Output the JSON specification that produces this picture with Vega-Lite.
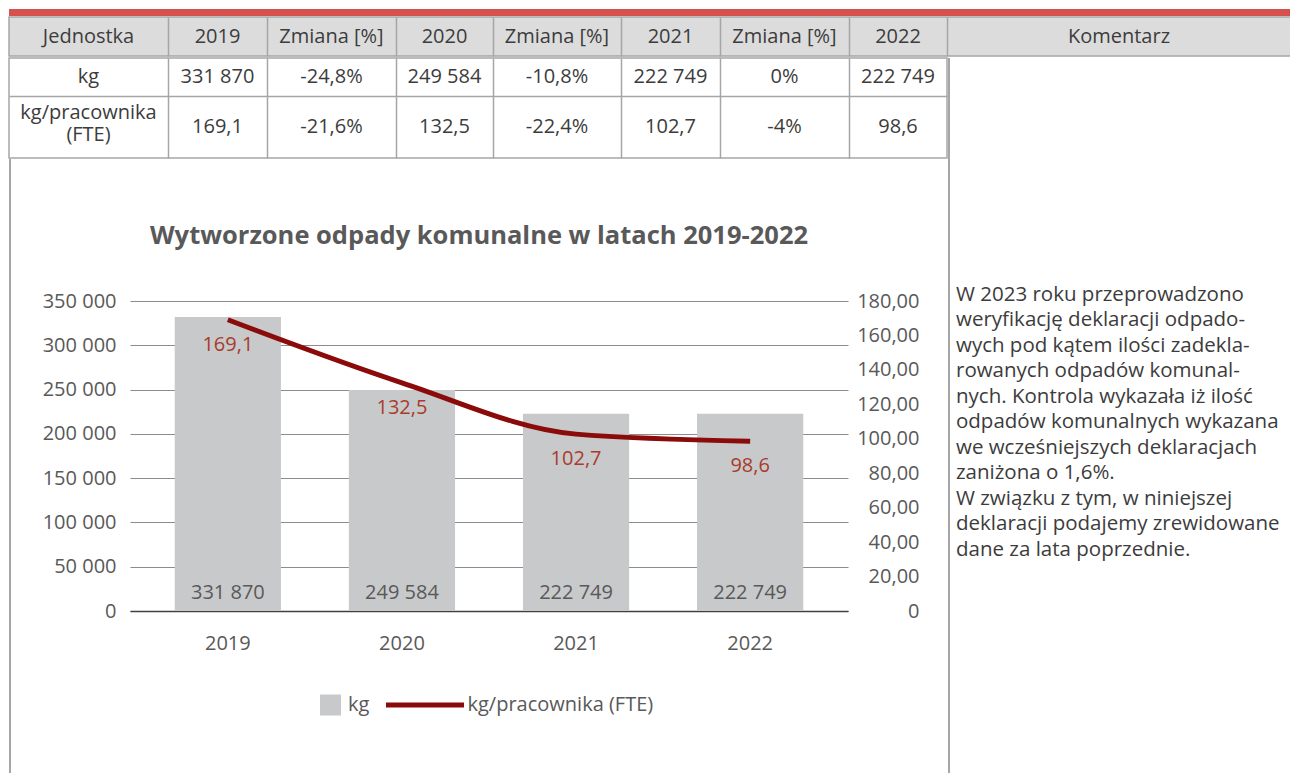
{
  "$schema": "https://vega.github.io/schema/vega-lite/v6.json",
  "padding": {"left": 8, "top": 9, "right": 0, "bottom": 0},
  "spacing": 0,
  "config": {
    "font": "Open Sans",
    "locale": {"number": {"decimal": ",", "thousands": " ", "grouping": [3], "currency": ["", " zł"]}},
    "view": {"stroke": null},
    "concat": {"spacing": 0},
    "axis": {"labelFont": "Open Sans", "labelFontSize": 20, "labelColor": "#595959", "labelOverlap": false},
    "legend": {"labelFont": "Open Sans", "labelFontSize": 20, "labelColor": "#595959", "labelLimit": 0}
  },
  "datasets": {
    "header": [
      {"col": 0, "text": "Jednostka"},
      {"col": 1, "text": "2019"},
      {"col": 2, "text": "Zmiana [%]"},
      {"col": 3, "text": "2020"},
      {"col": 4, "text": "Zmiana [%]"},
      {"col": 5, "text": "2021"},
      {"col": 6, "text": "Zmiana [%]"},
      {"col": 7, "text": "2022"},
      {"col": 8, "text": "Komentarz"}
    ],
    "body": [
      {"row": 0, "col": 0, "text": "kg"},
      {"row": 0, "col": 1, "text": "331 870"},
      {"row": 0, "col": 2, "text": "-24,8%"},
      {"row": 0, "col": 3, "text": "249 584"},
      {"row": 0, "col": 4, "text": "-10,8%"},
      {"row": 0, "col": 5, "text": "222 749"},
      {"row": 0, "col": 6, "text": "0%"},
      {"row": 0, "col": 7, "text": "222 749"},
      {"row": 1, "col": 0, "text": "kg/pracownika\n(FTE)"},
      {"row": 1, "col": 1, "text": "169,1"},
      {"row": 1, "col": 2, "text": "-21,6%"},
      {"row": 1, "col": 3, "text": "132,5"},
      {"row": 1, "col": 4, "text": "-22,4%"},
      {"row": 1, "col": 5, "text": "102,7"},
      {"row": 1, "col": 6, "text": "-4%"},
      {"row": 1, "col": 7, "text": "98,6"}
    ],
    "chart": [
      {"year": "2019", "kg": 331870, "fte": 169.1},
      {"year": "2020", "kg": 249584, "fte": 132.5},
      {"year": "2021", "kg": 222749, "fte": 102.7},
      {"year": "2022", "kg": 222749, "fte": 98.6}
    ],
    "comment": [
      {"line": 1, "text": "W 2023 roku przeprowadzono"},
      {"line": 2, "text": "weryfikację deklaracji odpado-"},
      {"line": 3, "text": "wych pod kątem ilości zadekla-"},
      {"line": 4, "text": "rowanych odpadów komunal-"},
      {"line": 5, "text": "nych. Kontrola wykazała iż ilość"},
      {"line": 6, "text": "odpadów komunalnych wykazana"},
      {"line": 7, "text": "we wcześniejszych deklaracjach"},
      {"line": 8, "text": "zaniżona o 1,6%."},
      {"line": 9, "text": "W związku z tym, w niniejszej"},
      {"line": 10, "text": "deklaracji podajemy zrewidowane"},
      {"line": 11, "text": "dane za lata poprzednie."}
    ]
  },
  "vconcat": [
    {
      "width": 1282, "height": 7,
      "data": {"values": []},
      "mark": "point",
      "view": {"fill": "#d6504e", "stroke": null}
    },
    {
      "width": 1282, "height": 39,
      "data": {"name": "header"},
      "view": {"fill": "#dcdcdc", "stroke": "#a6a6a6", "strokeWidth": 1.5},
      "mark": {"type": "text", "fontSize": 20, "color": "#3c3c3c", "baseline": "middle"},
      "encoding": {
        "x": {
          "field": "col", "type": "quantitative",
          "scale": {
            "domain": [-0.5, 0, 0.5, 1, 1.5, 2, 2.5, 3, 3.5, 4, 4.5, 5, 5.5, 6, 6.5, 7, 7.5, 8, 8.5],
            "range": [0, 79.5, 159, 208.5, 258, 322.5, 387, 435.5, 484, 548, 612, 661.5, 711, 775.5, 840, 889, 938, 1110, 1282],
            "zero": false, "nice": false
          },
          "axis": {"values": [0.5, 1.5, 2.5, 3.5, 4.5, 5.5, 6.5, 7.5], "grid": true, "gridColor": "#a6a6a6", "gridWidth": 1.5, "labels": false, "ticks": false, "domain": false, "title": null, "minExtent": 0, "maxExtent": 0}
        },
        "text": {"field": "text", "type": "nominal"}
      }
    },
    {
      "hconcat": [
        {
          "vconcat": [
            {
              "width": 938, "height": 100,
              "data": {"name": "body"},
              "view": {"stroke": "#a6a6a6", "strokeWidth": 1.5},
              "encoding": {
                "x": {
                  "field": "col", "type": "quantitative",
                  "scale": {
                    "domain": [-0.5, 0, 0.5, 1, 1.5, 2, 2.5, 3, 3.5, 4, 4.5, 5, 5.5, 6, 6.5, 7, 7.5],
                    "range": [0, 79.5, 159, 208.5, 258, 322.5, 387, 435.5, 484, 548, 612, 661.5, 711, 775.5, 840, 889, 938],
                    "zero": false, "nice": false
                  },
                  "axis": {"values": [0.5, 1.5, 2.5, 3.5, 4.5, 5.5, 6.5], "grid": true, "gridColor": "#a6a6a6", "gridWidth": 1.5, "labels": false, "ticks": false, "domain": false, "title": null, "minExtent": 0, "maxExtent": 0}
                },
                "y": {
                  "field": "row", "type": "quantitative",
                  "scale": {"domain": [-0.5, 0, 0.5, 1, 1.5], "range": [0, 19, 38, 69, 100], "zero": false, "nice": false},
                  "axis": {"values": [0.5], "grid": true, "gridColor": "#a6a6a6", "gridWidth": 1.5, "labels": false, "ticks": false, "domain": false, "title": null, "minExtent": 0, "maxExtent": 0}
                },
                "text": {"field": "text", "type": "nominal"}
              },
              "layer": [
                {
                  "transform": [{"filter": "indexof(datum.text, '\\n') < 0"}],
                  "mark": {"type": "text", "fontSize": 20, "color": "#3c3c3c", "baseline": "middle"}
                },
                {
                  "transform": [{"filter": "indexof(datum.text, '\\n') >= 0"}],
                  "mark": {"type": "text", "fontSize": 20, "color": "#3c3c3c", "baseline": "middle", "lineBreak": "\n", "lineHeight": 22, "dy": -14}
                }
              ]
            },
            {
              "hconcat": [
                {
                  "width": 2, "height": 618,
                  "data": {"values": []},
                  "mark": "point",
                  "view": {"fill": "#a6a6a6", "stroke": null}
                },
                {
                  "vconcat": [
                    {
                      "width": 817, "height": 64,
                      "data": {"values": []},
                      "mark": "point"
                    },
                    {
                      "width": 718, "height": 310,
                      "data": {"name": "chart"},
                      "title": {"text": "Wytworzone odpady komunalne w latach 2019-2022", "anchor": "middle", "frame": "bounds", "fontSize": 25.5, "fontWeight": "bold", "color": "#595959", "font": "Open Sans", "offset": 42},
                      "encoding": {
                        "x": {
                          "field": "year", "type": "ordinal",
                          "scale": {"paddingInner": 0.39, "paddingOuter": 0.257},
                          "axis": {"title": null, "labelAngle": 0, "ticks": false, "tickSize": 0, "labelPadding": 22, "domainColor": "#404040", "domainWidth": 1.5, "grid": false}
                        }
                      },
                      "layer": [
                        {
                          "mark": {"type": "bar"},
                          "encoding": {
                            "y": {
                              "field": "kg", "type": "quantitative",
                              "scale": {"domain": [0, 350000], "nice": false},
                              "axis": {"orient": "left", "title": null, "values": [0, 50000, 100000, 150000, 200000, 250000, 300000, 350000], "format": ",d", "grid": true, "gridColor": "#8c8c8c", "gridWidth": 1.2, "domain": false, "ticks": false, "labelPadding": 14, "minExtent": 119, "maxExtent": 119}
                            },
                            "fill": {
                              "datum": "kg", "type": "nominal",
                              "scale": {"range": ["#c8c9cb"]},
                              "legend": {"orient": "none", "legendX": 311, "legendY": 685, "title": null, "symbolType": "square", "symbolSize": 441, "symbolStrokeWidth": 0, "labelOffset": 7, "clipHeight": 22}
                            }
                          }
                        },
                        {
                          "mark": {"type": "text", "baseline": "middle", "dy": -18, "fontSize": 20, "color": "#595959"},
                          "encoding": {
                            "y": {"datum": 0, "type": "quantitative", "scale": {"domain": [0, 1]}, "axis": null},
                            "text": {"field": "kg", "type": "quantitative", "format": ",d"}
                          }
                        },
                        {
                          "encoding": {
                            "y": {
                              "field": "fte", "type": "quantitative",
                              "scale": {"domain": [0, 180], "nice": false},
                              "axis": {"orient": "right", "title": null, "values": [0, 20, 40, 60, 80, 100, 120, 140, 160, 180], "labelExpr": "datum.value === 0 ? '0' : replace(format(datum.value, '.2f'), '.', ',')", "grid": false, "domain": false, "ticks": false, "labelAlign": "right", "labelPadding": 71, "minExtent": 99, "maxExtent": 99}
                            }
                          },
                          "layer": [
                            {
                              "mark": {"type": "line", "strokeWidth": 5, "interpolate": "monotone"},
                              "encoding": {
                                "stroke": {
                                  "datum": "kg/pracownika (FTE)", "type": "nominal",
                                  "scale": {"range": ["#8b0a0a"]},
                                  "legend": {"orient": "none", "legendX": 374.5, "legendY": 685, "title": null, "symbolType": "stroke", "symbolSize": 6084, "symbolStrokeWidth": 5, "labelOffset": 1, "clipHeight": 22}
                                }
                              }
                            },
                            {
                              "mark": {"type": "text", "baseline": "middle", "dy": 25, "fontSize": 20, "color": "#a83c2c"},
                              "encoding": {
                                "text": {"field": "fte", "type": "quantitative", "format": ".1f"}
                              }
                            }
                          ]
                        }
                      ],
                      "resolve": {"scale": {"y": "independent"}}
                    }
                  ]
                }
              ]
            }
          ]
        },
        {
          "width": 2, "height": 718,
          "data": {"values": []},
          "mark": "point",
          "view": {"fill": "#a6a6a6", "stroke": null}
        },
        {
          "width": 342, "height": 718,
          "data": {"name": "comment"},
          "mark": {"type": "text", "align": "left", "baseline": "middle", "fontSize": 20.5, "color": "#3c3c3c"},
          "encoding": {
            "x": {"datum": 0, "type": "quantitative", "scale": {"domain": [0, 1], "range": [6, 342]}, "axis": null},
            "y": {"field": "line", "type": "quantitative", "scale": {"domain": [1, 11], "range": [236.5, 492]}, "axis": null},
            "text": {"field": "text", "type": "nominal"}
          }
        }
      ]
    }
  ]
}
